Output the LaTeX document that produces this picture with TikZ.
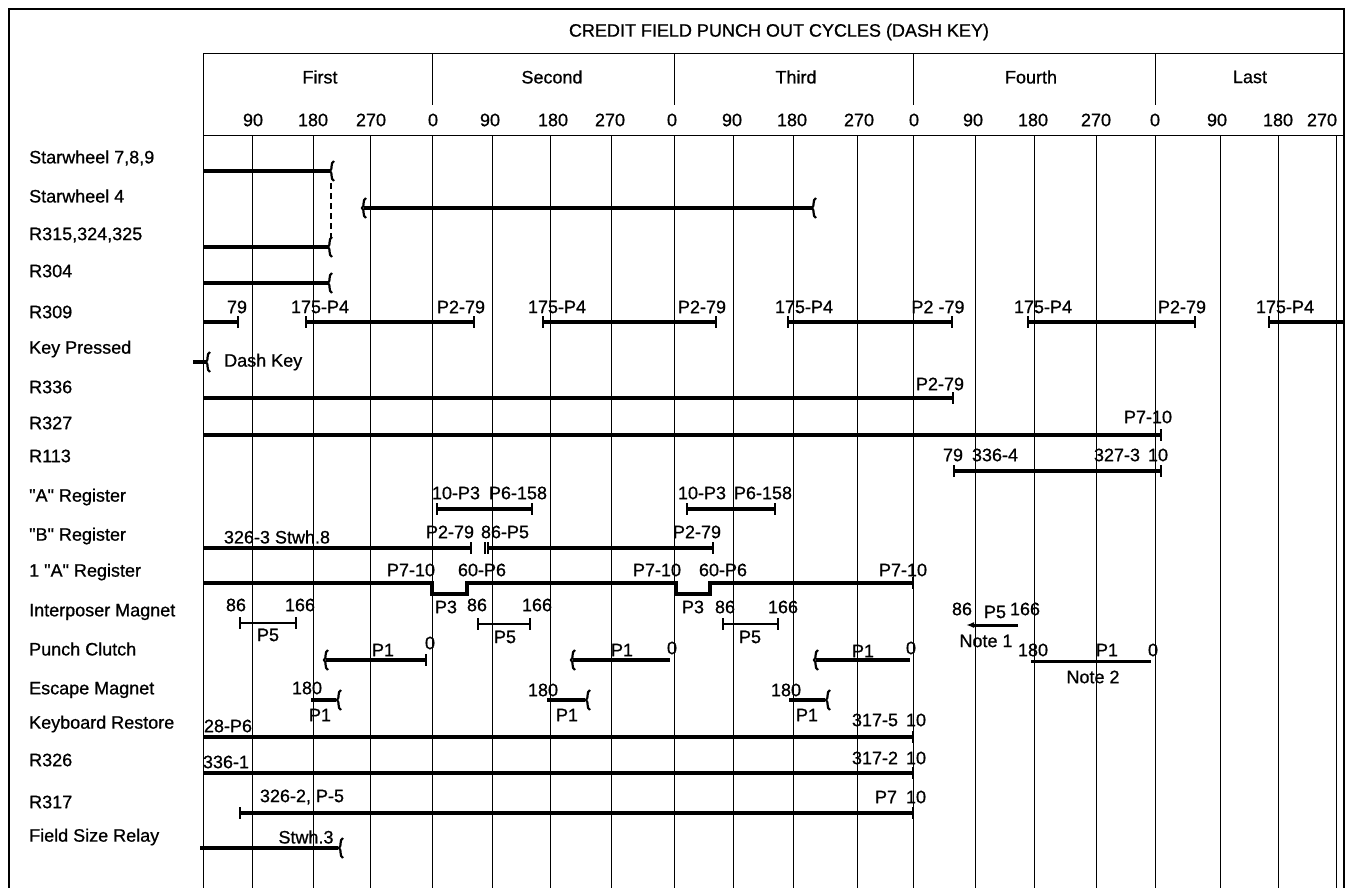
\documentclass[tikz,border=0pt]{standalone}
\usepackage{fontspec}
\newfontfamily\chartfont{Liberation Sans}[FakeBold=0.8]
\usetikzlibrary{arrows.meta}
\newcommand\tk[2]{\draw[tickl] (#1,#2-6) -- (#1,#2+6);}
\newcommand\crl[2]{\draw[curll] (#1+3,#2-10) .. controls (#1-1,#2-8) and (#1+2,#2-2) .. (#1-1,#2) .. controls (#1+2,#2+2) and (#1-1,#2+8) .. (#1+3,#2+10);}
\begin{document}
\begin{tikzpicture}[x=1pt,y=-1pt,font=\chartfont\fontsize{18}{21}\selectfont,
  grid/.style={line width=1pt},
  frame/.style={line width=2pt},
  sig/.style={line width=3.6pt},
  tickl/.style={line width=2.2pt},
  curll/.style={line width=2.2pt},
  lbl/.style={anchor=west,inner sep=0pt},
  num/.style={inner sep=0pt,anchor=center}]
\useasboundingbox (0,0) rectangle (1346,888);
% frame
\draw[frame] (9,888) -- (9,9) -- (1344,9) -- (1344,888);
\draw[grid] (203,54) -- (1344,54);
\draw[grid] (203,136) -- (1344,136);
\draw[grid] (203,54) -- (203,888);
\foreach \x in {432,674,913,1155} {\draw[grid] (\x,54) -- (\x,105);}
\foreach \x in {252,313,370,432,492,550,611,674,733,793,857,913,975,1034,1096,1155,1220,1278,1336} {\draw[grid] (\x,136) -- (\x,888);}
% header
\node[num] (title) at (779,32) {CREDIT FIELD PUNCH OUT CYCLES (DASH KEY)};
\node[num] (c1) at (320,77) {First};
\node[num] (c2) at (552,77) {Second};
\node[num] (c3) at (796,77) {Third};
\node[num] (c4) at (1031,77) {Fourth};
\node[num] (c5) at (1250,77) {Last};
\foreach \x/\t [count=\i] in {253/90,313/180,371/270,433/0,490/90,553/180,610/270,672/0,732/90,792/180,859/270,914/0,973/90,1033/180,1096/270,1155/0,1217/90,1278/180,1322/270}
  {\node[num] (d\i) at (\x,120) {\t};}
% row labels
\node[lbl] (r1) at (29,158) {Starwheel 7,8,9};
\node[lbl] (r2) at (29,196) {Starwheel 4};
\node[lbl] (r3) at (29,235) {R315,324,325};
\node[lbl] (r4) at (29,271) {R304};
\node[lbl] (r5) at (29,312) {R309};
\node[lbl] (r6) at (29,349) {Key Pressed};
\node[lbl] (r7) at (29,387) {R336};
\node[lbl] (r8) at (29,423) {R327};
\node[lbl] (r9) at (29,456) {R113};
\node[lbl] (r10) at (29,497) {"A" Register};
\node[lbl] (r11) at (29,536) {"B" Register};
\node[lbl] (r12) at (29,572) {1 "A" Register};
\node[lbl] (r13) at (29,612) {Interposer Magnet};
\node[lbl] (r14) at (29,649) {Punch Clutch};
\node[lbl] (r15) at (29,690) {Escape Magnet};
\node[lbl] (r16) at (29,724) {Keyboard Restore};
\node[lbl] (r17) at (29,760) {R326};
\node[lbl] (r18) at (29,802) {R317};
\node[lbl] (r19) at (29,837) {Field Size Relay};
% Starwheel 7,8,9 / 4 / R315 / R304
\draw[sig] (203,171) -- (330,171); \crl{331}{171}
\draw[line width=1.8pt,dash pattern=on 6pt off 4pt] (331,183) -- (331,238);
\draw[sig] (364,208) -- (812,208); \crl{363}{208} \crl{813}{208}
\draw[sig] (203,247) -- (328,247); \crl{329}{247}
\draw[sig] (203,283) -- (328,283); \crl{329}{283}
% R309
\draw[sig] (203,322) -- (238,322); \tk{238}{322}
\draw[sig] (306,322) -- (474,322); \tk{306}{322} \tk{474}{322}
\draw[sig] (543,322) -- (716,322); \tk{543}{322} \tk{716}{322}
\draw[sig] (788,322) -- (952,322); \tk{788}{322} \tk{952}{322}
\draw[sig] (1028,322) -- (1195,322); \tk{1028}{322} \tk{1195}{322}
\draw[sig] (1269,322) -- (1344,322); \tk{1269}{322}
\node[num] (a1) at (237,307) {79};
\node[num] (a2) at (320,307) {175-P4};
\node[num] (a3) at (461,307) {P2-79};
\node[num] (a4) at (557,307) {175-P4};
\node[num] (a5) at (702,307) {P2-79};
\node[num] (a6) at (804,307) {175-P4};
\node[num] (a7) at (938,307) {P2 -79};
\node[num] (a8) at (1043,307) {175-P4};
\node[num] (a9) at (1182,307) {P2-79};
\node[num] (a10) at (1285,307) {175-P4};
% Key pressed
\draw[sig] (193,362) -- (206,362); \crl{207}{362}
\node[lbl] (dk) at (224,362) {Dash Key};
% R336, R327, R113
\draw[sig] (203,398) -- (953,398); \tk{953}{398}
\node[num] (b1) at (940,384) {P2-79};
\draw[sig] (203,435) -- (1161,435); \tk{1161}{435}
\node[num] (b2) at (1148,417) {P7-10};
\draw[sig] (954,471) -- (1161,471); \tk{954}{471} \tk{1161}{471}
\node[num] (b3) at (953,455) {79};
\node[num] (b4) at (995,455) {336-4};
\node[num] (b5) at (1117,455) {327-3};
\node[num] (b6) at (1158,455) {10};
% A register
\draw[sig] (437,509) -- (532,509); \tk{437}{509} \tk{532}{509}
\node[num] (e1) at (456,493) {10-P3};
\node[num] (e2) at (518,493) {P6-158};
\draw[sig] (687,509) -- (775,509); \tk{687}{509} \tk{775}{509}
\node[num] (e3) at (702,493) {10-P3};
\node[num] (e4) at (763,493) {P6-158};
% B register
\draw[sig] (203,548) -- (471,548); \tk{471}{548}
\tk{485}{548}
\draw[sig] (488,548) -- (713,548); \tk{488}{548} \tk{713}{548}
\node[num] (f1) at (277,537) {326-3 Stwh.8};
\node[num] (f2) at (450,532) {P2-79};
\node[num] (f3) at (505,532) {86-P5};
\node[num] (f4) at (697,532) {P2-79};
% 1 A register
\draw[sig] (203,583) -- (432,583) -- (432,594) -- (467,594) -- (467,583) -- (676,583) -- (676,594) -- (710,594) -- (710,583) -- (913,583);
\tk{913}{583}
\node[num] (g1) at (411,570) {P7-10};
\node[num] (g2) at (482,570) {60-P6};
\node[num] (g3) at (657,570) {P7-10};
\node[num] (g4) at (723,570) {60-P6};
\node[num] (g5) at (903,570) {P7-10};
\node[num] (g6) at (446,607) {P3};
\node[num] (g7) at (693,607) {P3};
% Interposer magnet
\draw[tickl] (240,623) -- (296,623); \tk{240}{623} \tk{296}{623}
\node[num] (h1) at (236,605) {86};
\node[num] (h2) at (300,605) {166};
\node[num] (h3) at (268,635) {P5};
\draw[tickl] (478,624) -- (530,624); \tk{478}{624} \tk{530}{624}
\node[num] (h4) at (477,605) {86};
\node[num] (h5) at (537,605) {166};
\node[num] (h6) at (505,637) {P5};
\draw[tickl] (723,624) -- (778,624); \tk{723}{624} \tk{778}{624}
\node[num] (h7) at (725,607) {86};
\node[num] (h8) at (783,607) {166};
\node[num] (h9) at (750,637) {P5};
\draw[line width=3pt,-{Latex[length=8pt,width=6pt]}] (1018,625) -- (966,625);
\node[num] (h10) at (962,609) {86};
\node[num] (h11) at (995,612) {P5};
\node[num] (h12) at (1025,609) {166};
\node[num] (h13) at (986,641) {Note 1};
% Punch clutch
\draw[sig] (326,660) -- (426,660); \crl{325}{660} \tk{426}{660}
\node[num] (k1) at (383,650) {P1};
\node[num] (k2) at (430,643) {0};
\draw[sig] (573,660) -- (670,660); \crl{572}{660}
\node[num] (k3) at (622,650) {P1};
\node[num] (k4) at (672,648) {0};
\draw[sig] (816,660) -- (910,660); \crl{815}{660}
\node[num] (k5) at (863,651) {P1};
\node[num] (k6) at (911,648) {0};
\draw[line width=3pt] (1031,661) -- (1151,661);
\node[num] (k7) at (1033,650) {180};
\node[num] (k8) at (1107,650) {P1};
\node[num] (k9) at (1153,650) {0};
\node[num] (k10) at (1093,677) {Note 2};
% Escape magnet
\draw[sig] (311,700) -- (336,700); \crl{338}{700}
\node[num] (m1) at (307,688) {180};
\node[num] (m2) at (320,715) {P1};
\draw[sig] (547,700) -- (585,700); \crl{587}{700}
\node[num] (m3) at (543,690) {180};
\node[num] (m4) at (567,715) {P1};
\draw[sig] (789,700) -- (825,700); \crl{827}{700}
\node[num] (m5) at (786,690) {180};
\node[num] (m6) at (807,715) {P1};
% Keyboard restore, R326, R317
\draw[sig] (203,737) -- (913,737); \tk{913}{737}
\node[num] (p1) at (228,726) {28-P6};
\node[num] (p2) at (875,720) {317-5};
\node[num] (p3) at (916,720) {10};
\draw[sig] (203,773) -- (913,773); \tk{913}{773}
\node[num] (q1) at (226,762) {336-1};
\node[num] (q2) at (875,758) {317-2};
\node[num] (q3) at (916,758) {10};
\draw[sig] (240,813) -- (913,813); \tk{240}{813} \tk{913}{813}
\node[num] (s1) at (302,797) {326-2, P-5};
\node[num] (s2) at (886,797) {P7};
\node[num] (s3) at (916,797) {10};
% Field size relay
\draw[sig] (200,848) -- (338,848); \crl{340}{848}
\node[num] (t1) at (306,837) {Stwh.3};
\end{tikzpicture}
\end{document}
